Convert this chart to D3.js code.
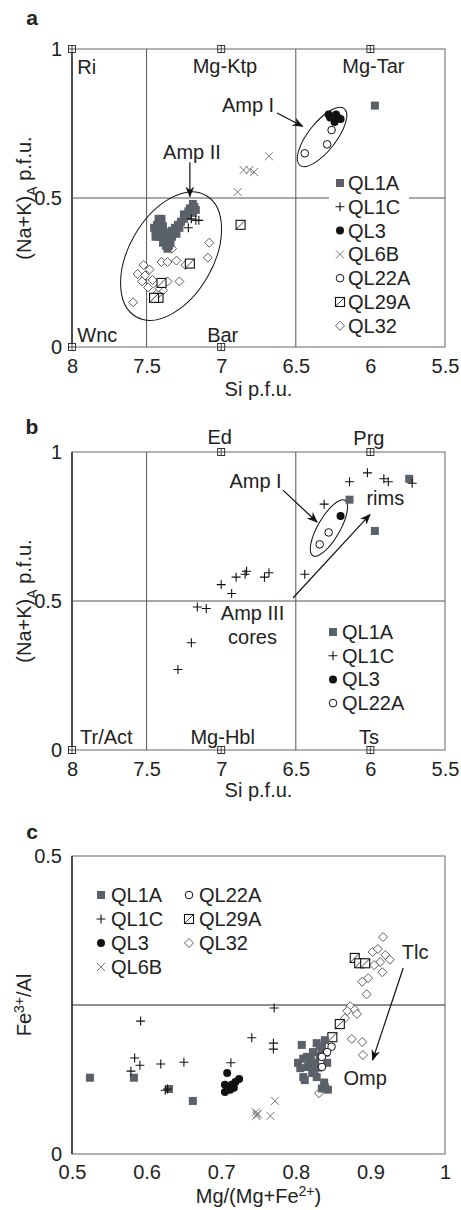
<!DOCTYPE html>
<html>
<head>
<meta charset="utf-8">
<script src="https://cdn.jsdelivr.net/npm/d3@7"></script>
<style>
  body { margin: 0; background: #fff; }
  svg text { font-family: "Liberation Sans", Arial, sans-serif; fill: #222; }
</style>
</head>
<body>
<div id="chart"></div>
<script>
// ---------- data ----------
// panel a : Si p.f.u. vs (Na+K)A p.f.u.
const aQL1A = [[5.97,0.81],[7.18,0.47],[7.19,0.45],[7.21,0.465],[7.23,0.44],[7.25,0.445],[7.27,0.42],
  [7.29,0.41],[7.31,0.40],[7.33,0.39],[7.30,0.38],[7.33,0.37],[7.36,0.36],[7.37,0.385],[7.39,0.405],
  [7.41,0.415],[7.43,0.41],[7.44,0.39],[7.42,0.37],[7.44,0.37],[7.39,0.35],[7.37,0.34],[7.36,0.33],[7.34,0.35],[7.42,0.43],
  [7.17,0.46],[7.19,0.48],[7.25,0.43],[7.28,0.40],[7.40,0.39],[7.38,0.37],[7.35,0.37],[7.45,0.40],[7.40,0.43],
  [7.37,0.35],[7.35,0.34],[7.22,0.455],[7.32,0.38]];
const aQL1C = [[7.20,0.43],[7.17,0.425],[7.15,0.425],[7.22,0.40]];
const aQL3 = [[6.28,0.78],[6.25,0.77],[6.22,0.77],[6.20,0.765],[6.24,0.755],[6.27,0.77],[6.23,0.78]];
const aQL6B = [[6.68,0.64],[6.85,0.594],[6.81,0.594],[6.78,0.587],[6.89,0.52]];
const aQL22A = [[6.26,0.728],[6.29,0.68],[6.44,0.65]];
const aQL29A = [[6.87,0.41],[7.21,0.28],[7.40,0.215],[7.42,0.165],[7.45,0.165]];
const aQL32 = [[7.33,0.33],[7.08,0.35],[7.09,0.30],[7.40,0.285],[7.36,0.285],[7.30,0.29],[7.24,0.275],
  [7.52,0.275],[7.48,0.26],[7.56,0.245],[7.51,0.24],[7.53,0.22],[7.46,0.225],[7.49,0.20],[7.36,0.22],
  [7.28,0.22],[7.39,0.19],[7.43,0.18],[7.59,0.15],[7.44,0.165],[7.42,0.20]];
const aEnds = [[8,1],[7,1],[6,1],[8,0],[7,0]];

// panel b
const bQL1A = [[6.14,0.84],[5.97,0.735],[5.74,0.91]];
const bQL1C = [[6.14,0.90],[6.02,0.93],[5.91,0.91],[5.88,0.90],[5.72,0.895],[6.31,0.825],[6.44,0.59],
  [6.83,0.60],[6.84,0.59],[6.68,0.595],[6.71,0.58],[6.90,0.58],[7.00,0.555],[6.93,0.525],
  [7.16,0.48],[7.10,0.475],[7.20,0.36],[7.29,0.27]];
const bQL3 = [[6.20,0.785]];
const bQL22A = [[6.28,0.73],[6.34,0.69]];
const bEnds = [[7,1],[6,1],[8,0],[7,0],[6,0]];

// panel c : Mg/(Mg+Fe2+) vs Fe3+/Al
const cQL1A = [[0.524,0.128],[0.583,0.128],[0.630,0.109],[0.662,0.089],
  [0.808,0.183],[0.828,0.186],[0.839,0.191],[0.835,0.178],[0.823,0.171],[0.815,0.163],[0.803,0.153],
  [0.806,0.144],[0.816,0.146],[0.826,0.153],[0.842,0.153],[0.822,0.136],[0.812,0.124],[0.828,0.129],
  [0.839,0.112],[0.835,0.110],[0.810,0.129],[0.820,0.160],[0.832,0.165],
  [0.818,0.150],[0.830,0.145],[0.825,0.140],[0.840,0.170],[0.832,0.180],[0.838,0.120],[0.843,0.108],[0.810,0.160]];
const cQL1C = [[0.592,0.223],[0.584,0.161],[0.591,0.149],[0.579,0.139],[0.619,0.151],[0.650,0.154],
  [0.713,0.153],[0.741,0.195],[0.625,0.107],[0.628,0.109],[0.771,0.245],[0.770,0.186],[0.770,0.176]];
const cQL3 = [[0.708,0.136],[0.705,0.116],[0.705,0.104],[0.714,0.116],[0.719,0.121],[0.724,0.126],[0.717,0.111],[0.712,0.108]];
const cQL6B = [[0.772,0.089],[0.766,0.064],[0.746,0.070],[0.748,0.066],[0.749,0.068],[0.747,0.064]];
const cQL22A = [[0.848,0.180],[0.842,0.171],[0.835,0.163],[0.835,0.146]];
const cQL29A = [[0.879,0.329],[0.885,0.320],[0.893,0.320],[0.859,0.218],[0.849,0.196]];
const cQL32 = [[0.917,0.364],[0.903,0.339],[0.910,0.344],[0.920,0.334],[0.926,0.326],[0.913,0.322],
  [0.905,0.317],[0.916,0.305],[0.897,0.295],[0.889,0.289],[0.895,0.268],[0.873,0.248],[0.869,0.240],
  [0.879,0.242],[0.882,0.235],[0.866,0.228],[0.875,0.193],[0.889,0.188],[0.890,0.166],[0.831,0.102]];

const siTicks = [8, 7.5, 7, 6.5, 6, 5.5];
const nakTicks = [0, 0.5, 1];
const mgTicks = [0.5, 0.6, 0.7, 0.8, 0.9, 1];
const feTicks = [0, 0.5];

// ---------- setup ----------
const W = 461, H = 1210;
const svg = d3.select('#chart').append('svg').attr('width', W).attr('height', H);
const FS = 20;
const GRAY = '#5a6169';

svg.append('defs').append('marker')
  .attr('id', 'head').attr('viewBox', '0 0 10 10').attr('refX', 9).attr('refY', 5)
  .attr('markerWidth', 11).attr('markerHeight', 11).attr('markerUnits', 'userSpaceOnUse')
  .attr('orient', 'auto')
  .append('path').attr('d', 'M0,1 L10,5 L0,9 L3,5 Z').attr('fill', '#111');

function sym(g, type, x, y) {
  if (type === 'sq') {
    g.append('rect').attr('x', x - 4).attr('y', y - 4).attr('width', 8).attr('height', 8).attr('fill', GRAY);
  } else if (type === 'plus') {
    g.append('path').attr('d', `M${x-4.5},${y}H${x+4.5}M${x},${y-4.5}V${y+4.5}`).attr('stroke', '#111').attr('stroke-width', 1.1);
  } else if (type === 'dot') {
    g.append('circle').attr('cx', x).attr('cy', y).attr('r', 4).attr('fill', '#111');
  } else if (type === 'x') {
    g.append('path').attr('d', `M${x-4},${y-4}L${x+4},${y+4}M${x-4},${y+4}L${x+4},${y-4}`).attr('stroke', '#777').attr('stroke-width', 1);
  } else if (type === 'circ') {
    g.append('circle').attr('cx', x).attr('cy', y).attr('r', 3.8).attr('fill', '#fff').attr('stroke', '#111').attr('stroke-width', 1);
  } else if (type === 'sqd') {
    g.append('rect').attr('x', x - 4.5).attr('y', y - 4.5).attr('width', 9).attr('height', 9)
      .attr('fill', '#fff').attr('stroke', '#111').attr('stroke-width', 1.1);
    g.append('path').attr('d', `M${x-4.5},${y+4.5}L${x+4.5},${y-4.5}`).attr('stroke', '#111').attr('stroke-width', 0.8);
  } else if (type === 'dia') {
    g.append('path').attr('d', `M${x},${y-4.5}L${x+4.5},${y}L${x},${y+4.5}L${x-4.5},${y}Z`)
      .attr('fill', '#fff').attr('stroke', '#333').attr('stroke-width', 0.8);
  } else if (type === 'end') {
    g.append('rect').attr('x', x - 3.5).attr('y', y - 3.5).attr('width', 7).attr('height', 7)
      .attr('fill', '#fff').attr('stroke', '#222').attr('stroke-width', 0.9);
    g.append('path').attr('d', `M${x-3.5},${y}H${x+3.5}M${x},${y-3.5}V${y+3.5}`).attr('stroke', '#222').attr('stroke-width', 0.8);
  }
}

function points(g, data, type, x, y) {
  data.forEach(d => sym(g, type, x(d[0]), y(d[1])));
}

function label(g, txt, px, py, anchor, size, weight) {
  return g.append('text').attr('x', px).attr('y', py).attr('dy', '0.35em')
    .attr('text-anchor', anchor || 'middle').attr('font-size', size || FS)
    .attr('font-weight', weight || 'normal').text(txt);
}

function arrow(g, x, y, p0, p1) {
  g.append('line').attr('x1', x(p0[0])).attr('y1', y(p0[1])).attr('x2', x(p1[0])).attr('y2', y(p1[1]))
    .attr('stroke', '#111').attr('stroke-width', 1.2).attr('marker-end', 'url(#head)');
}

function ellipse(g, x, y, c, rx, ry, ang) {
  g.append('ellipse').attr('cx', 0).attr('cy', 0).attr('rx', rx).attr('ry', ry)
    .attr('transform', `translate(${x(c[0])},${y(c[1])}) rotate(${ang})`)
    .attr('fill', 'none').attr('stroke', '#111').attr('stroke-width', 1);
}

function axes(g, x, y, xt, yt, xpad, xTitle, yTitleFn, xTitleY) {
  const xa = g.append('g').attr('transform', `translate(0,${y.range()[0]})`)
    .call(d3.axisBottom(x).tickValues(xt).tickSize(0).tickPadding(xpad).tickFormat(d3.format('')));
  const ya = g.append('g').attr('transform', `translate(${x.range()[0]},0)`)
    .call(d3.axisLeft(y).tickValues(yt).tickSize(0).tickPadding(10).tickFormat(d3.format('')));
  [xa, ya].forEach(a => {
    a.select('.domain').remove();
    a.selectAll('text').attr('font-size', FS).attr('fill', '#222')
      .attr('font-family', '"Liberation Sans", Arial, sans-serif');
  });
  const cx = (x.range()[0] + x.range()[1]) / 2;
  const t = g.append('text').attr('x', cx).attr('y', xTitleY).attr('text-anchor', 'middle').attr('font-size', FS);
  xTitle(t);
  const cy = (y.range()[0] + y.range()[1]) / 2;
  const yt2 = g.append('text').attr('transform', `translate(24,${cy}) rotate(-90)`)
    .attr('dy', '0.35em').attr('text-anchor', 'middle').attr('font-size', FS);
  yTitleFn(yt2);
}

function frame(g, x, y) {
  const [x0, x1] = x.range(), [y0, y1] = y.range();
  g.append('rect').attr('x', x0).attr('y', y1).attr('width', x1 - x0).attr('height', y0 - y1)
    .attr('fill', 'none').attr('stroke', '#666').attr('stroke-width', 1);
  g.append('line').attr('x1', x0).attr('x2', x0).attr('y1', y1).attr('y2', y0)
    .attr('stroke', '#222').attr('stroke-width', 1.4);
}

function nakTitle(t) {
  t.append('tspan').text('(Na+K)');
  t.append('tspan').attr('font-size', 14).attr('dy', 6).text('A');
  t.append('tspan').attr('dy', -6).text(' p.f.u.');
}
function siTitle(t) { t.text('Si p.f.u.'); }

// ---------- panel a ----------
{
  const g = svg.append('g');
  const x = d3.scaleLinear().domain([8, 5.5]).range([72, 445]);
  const y = d3.scaleLinear().domain([0, 1]).range([347, 49]);
  frame(g, x, y);
  [7.5, 6.5].forEach(v => g.append('line').attr('x1', x(v)).attr('x2', x(v)).attr('y1', y(0)).attr('y2', y(1))
    .attr('stroke', '#555'));
  g.append('line').attr('x1', x(8)).attr('x2', x(5.5)).attr('y1', y(0.5)).attr('y2', y(0.5)).attr('stroke', '#555');
  axes(g, x, y, siTicks, nakTicks, 12, siTitle, nakTitle, 396);
  label(g, 'a', 32, 18, 'middle', 21, 'bold');

  label(g, 'Ri', x(7.965), y(0.94), 'start');
  label(g, 'Mg-Ktp', x(6.975), y(0.943));
  label(g, 'Mg-Tar', x(5.98), y(0.943));
  label(g, 'Wnc', x(7.83), y(0.04));
  label(g, 'Bar', x(6.99), y(0.04));

  ellipse(g, x, y, [7.336, 0.305], 70, 42, -60);
  ellipse(g, x, y, [6.324, 0.705], 36, 14, -52);
  label(g, 'Amp II', x(7.196), y(0.654));
  arrow(g, x, y, [7.21, 0.62], [7.21, 0.505]);
  label(g, 'Amp I', x(6.82), y(0.812));
  arrow(g, x, y, [6.626, 0.785], [6.455, 0.741]);

  points(g, aQL6B, 'x', x, y);
  points(g, aQL32, 'dia', x, y);
  points(g, aQL29A, 'sqd', x, y);
  points(g, aQL1A, 'sq', x, y);
  points(g, aQL1C, 'plus', x, y);
  points(g, aQL3, 'dot', x, y);
  points(g, aQL22A, 'circ', x, y);
  points(g, aEnds, 'end', x, y);

  // legend
  const lg = g.append('g');
  lg.append('rect').attr('x', 329).attr('y', 172).attr('width', 80).attr('height', 164).attr('fill', '#fff');
  const items = [['QL1A', 'sq'], ['QL1C', 'plus'], ['QL3', 'dot'], ['QL6B', 'x'], ['QL22A', 'circ'], ['QL29A', 'sqd'], ['QL32', 'dia']];
  items.forEach((it, i) => {
    const yy = 183 + i * 23.8;
    sym(lg, it[1], 340, yy);
    label(lg, it[0], 348, yy, 'start');
  });
}

// ---------- panel b ----------
{
  const g = svg.append('g');
  const x = d3.scaleLinear().domain([8, 5.5]).range([72, 445]);
  const y = d3.scaleLinear().domain([0, 1]).range([750, 452]);
  frame(g, x, y);
  [7.5, 6.5].forEach(v => g.append('line').attr('x1', x(v)).attr('x2', x(v)).attr('y1', y(0)).attr('y2', y(1))
    .attr('stroke', '#555'));
  g.append('line').attr('x1', x(8)).attr('x2', x(5.5)).attr('y1', y(0.5)).attr('y2', y(0.5)).attr('stroke', '#555');
  axes(g, x, y, siTicks, nakTicks, 12, siTitle, nakTitle, 797);
  label(g, 'b', 32, 427, 'middle', 21, 'bold');

  label(g, 'Ed', x(7.01), y(1.05));
  label(g, 'Prg', x(6.01), y(1.047));
  label(g, 'Tr/Act', x(7.77), y(0.044));
  label(g, 'Mg-Hbl', x(6.99), y(0.044));
  label(g, 'Ts', x(6.01), y(0.044));

  ellipse(g, x, y, [6.278, 0.745], 32, 11, -60);
  label(g, 'Amp I', x(6.77), y(0.903));
  arrow(g, x, y, [6.586, 0.872], [6.358, 0.765]);
  label(g, 'rims', x(5.90), y(0.846));
  arrow(g, x, y, [6.519, 0.51], [6.003, 0.79]);
  label(g, 'Amp III', x(6.79), y(0.46));
  label(g, 'cores', x(6.79), y(0.379));

  points(g, bQL1A, 'sq', x, y);
  points(g, bQL1C, 'plus', x, y);
  points(g, bQL3, 'dot', x, y);
  points(g, bQL22A, 'circ', x, y);
  points(g, bEnds, 'end', x, y);

  const items = [['QL1A', 'sq'], ['QL1C', 'plus'], ['QL3', 'dot'], ['QL22A', 'circ']];
  items.forEach((it, i) => {
    const yy = 632 + i * 23.7;
    sym(g, it[1], 333, yy);
    label(g, it[0], 342, yy, 'start');
  });
}

// ---------- panel c ----------
{
  const g = svg.append('g');
  const x = d3.scaleLinear().domain([0.5, 1]).range([72, 445]);
  const y = d3.scaleLinear().domain([0, 0.5]).range([1154, 856]);
  frame(g, x, y);
  g.append('line').attr('x1', x(0.5)).attr('x2', x(1)).attr('y1', y(0.25)).attr('y2', y(0.25)).attr('stroke', '#222');
  axes(g, x, y, mgTicks, feTicks, 11,
    t => { t.append('tspan').text('Mg/(Mg+Fe'); t.append('tspan').attr('font-size', 14).attr('dy', -7).text('2+');
           t.append('tspan').attr('dy', 7).text(')'); },
    t => { t.append('tspan').text('Fe'); t.append('tspan').attr('font-size', 14).attr('dy', -7).text('3+');
           t.append('tspan').attr('dy', 7).text('/Al'); },
    1203);
  label(g, 'c', 32, 832, 'middle', 21, 'bold');

  label(g, 'Tlc', x(0.960), y(0.339));
  arrow(g, x, y, [0.944, 0.312], [0.903, 0.158]);
  label(g, 'Omp', x(0.893), y(0.128));

  points(g, cQL6B, 'x', x, y);
  points(g, cQL32, 'dia', x, y);
  points(g, cQL29A, 'sqd', x, y);
  points(g, cQL1A, 'sq', x, y);
  points(g, cQL1C, 'plus', x, y);
  points(g, cQL3, 'dot', x, y);
  points(g, cQL22A, 'circ', x, y);

  const items = [['QL1A', 'sq', 0, 0], ['QL1C', 'plus', 0, 1], ['QL3', 'dot', 0, 2], ['QL6B', 'x', 0, 3],
                 ['QL22A', 'circ', 1, 0], ['QL29A', 'sqd', 1, 1], ['QL32', 'dia', 1, 2]];
  items.forEach(it => {
    const xx = it[2] ? 189 : 101, yy = 895 + it[3] * 24;
    sym(g, it[1], xx, yy);
    label(g, it[0], xx + 10, yy, 'start');
  });
}
</script>
</body>
</html>
